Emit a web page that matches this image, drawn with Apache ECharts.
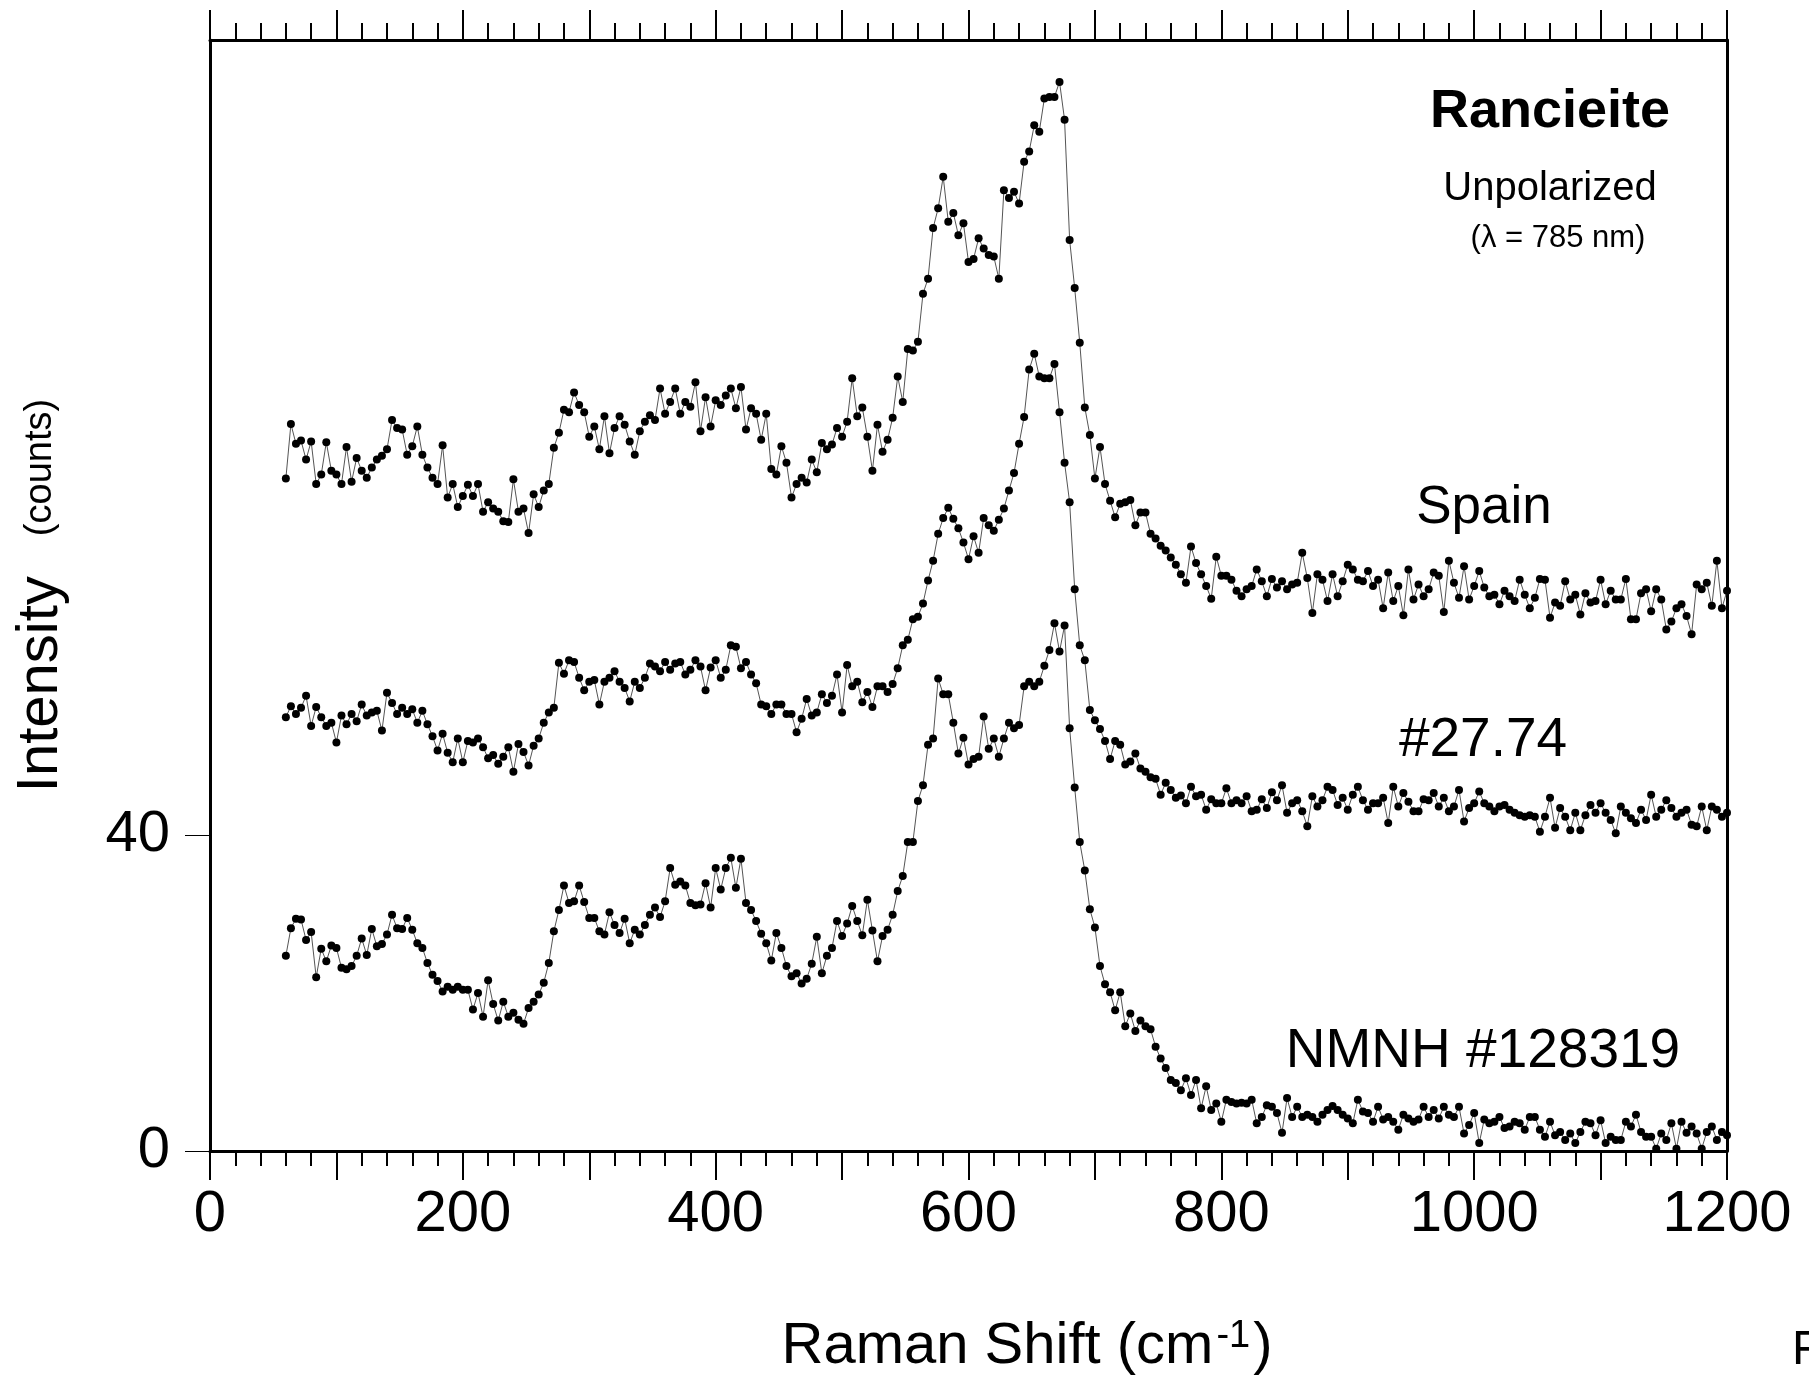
<!DOCTYPE html>
<html>
<head>
<meta charset="utf-8">
<script src="https://cdn.jsdelivr.net/npm/echarts@6/dist/echarts.min.js"></script>
<style>
html,body{margin:0;padding:0;background:#fff;}
#chart{width:1809px;height:1380px;}
</style>
</head>
<body>
<div id="chart"></div>
<script>
// Raman shift grid (cm-1): evenly spaced instrument channels
const shiftStart = 60;
const shiftStep = 4;

// Spain (top trace), counts
const spain = [
85.1, 92.0, 89.5, 89.9, 87.5, 89.8, 84.4, 85.6, 89.7, 86.1,
85.6, 84.4, 89.1, 84.7, 87.7, 86.1, 85.2, 86.5, 87.5, 88.0,
88.8, 92.5, 91.5, 91.3, 88.1, 89.2, 91.7, 88.1, 86.5, 85.2,
84.4, 89.3, 82.7, 84.4, 81.5, 82.9, 84.3, 82.9, 84.4, 80.9,
82.1, 81.3, 80.9, 79.7, 79.6, 85.0, 80.9, 81.3, 78.2, 83.1,
81.5, 83.6, 84.4, 89.0, 90.9, 93.8, 93.5, 96.0, 94.4, 93.5,
90.4, 91.7, 88.8, 93.0, 88.3, 91.5, 93.0, 91.9, 89.8, 88.1,
91.1, 92.3, 93.1, 92.5, 96.5, 93.3, 94.8, 96.5, 93.3, 94.8,
94.2, 97.3, 91.1, 95.4, 91.7, 95.0, 94.4, 95.6, 96.5, 94.0,
96.7, 91.3, 94.0, 93.3, 90.0, 93.3, 86.3, 85.6, 89.2, 87.1,
82.7, 84.4, 85.2, 84.6, 87.5, 85.9, 89.6, 88.8, 89.4, 91.5,
90.4, 92.3, 97.8, 93.0, 94.1, 90.4, 86.1, 91.9, 88.5, 90.0,
92.8, 98.0, 94.8, 101.5, 101.3, 102.4, 108.5, 110.4, 116.8, 119.3,
123.3, 117.6, 118.7, 115.9, 117.4, 112.5, 112.9, 115.5, 114.2, 113.4,
113.2, 110.4, 121.6, 120.6, 121.4, 119.9, 125.2, 126.5, 129.8, 129.0,
133.2, 133.4, 133.4, 135.3, 130.5, 115.3, 109.2, 102.3, 94.1, 90.6,
85.1, 89.1, 84.4, 82.3, 80.2, 81.9, 82.1, 82.4, 79.2, 80.8,
80.8, 78.1, 77.5, 76.6, 76.0, 75.1, 74.2, 73.0, 71.9, 76.5,
74.4, 73.0, 71.5, 69.9, 75.2, 72.8, 72.8, 72.3, 70.9, 70.2,
71.1, 71.5, 73.6, 72.1, 70.2, 72.4, 71.3, 72.1, 71.1, 71.7,
71.9, 75.7, 72.5, 68.1, 73.0, 72.3, 69.6, 73.0, 70.2, 72.1,
74.2, 73.6, 72.3, 72.1, 73.4, 71.5, 72.3, 68.7, 73.2, 69.6,
71.5, 67.8, 73.6, 69.8, 71.7, 70.2, 71.1, 73.2, 72.8, 68.2,
74.7, 71.9, 70.0, 74.0, 69.8, 71.5, 73.4, 71.3, 70.2, 70.4,
69.2, 70.9, 70.2, 69.6, 72.3, 70.4, 68.7, 70.0, 72.4, 72.3,
67.5, 69.4, 69.0, 72.1, 69.8, 70.4, 67.9, 70.6, 69.4, 69.6,
72.3, 69.2, 70.9, 69.8, 69.8, 72.4, 67.3, 67.3, 70.6, 71.1,
68.3, 71.1, 69.8, 66.0, 67.0, 68.7, 69.2, 67.7, 65.4, 71.7,
71.1, 71.9, 69.0, 74.7, 68.7, 70.9
];

// #27.74 (middle trace), counts
const sample2774 = [
54.9, 56.3, 55.3, 56.1, 57.6, 53.8, 56.2, 54.9, 53.8, 54.2,
51.7, 55.1, 54.0, 55.3, 54.4, 56.5, 55.1, 55.5, 55.7, 53.2,
58.0, 56.7, 55.3, 56.1, 55.3, 55.9, 54.2, 55.7, 54.0, 52.5,
50.7, 52.8, 50.4, 49.2, 52.2, 49.2, 51.9, 51.7, 52.2, 51.1,
49.7, 50.1, 49.0, 49.9, 51.1, 48.0, 51.5, 50.5, 48.8, 51.3,
52.2, 54.2, 55.5, 56.1, 61.8, 60.4, 62.1, 61.9, 59.9, 58.3,
59.4, 59.6, 56.5, 59.4, 59.9, 60.7, 59.4, 58.6, 56.9, 59.4,
58.6, 59.9, 61.7, 61.3, 60.7, 61.9, 60.9, 61.7, 61.9, 60.3,
60.9, 62.1, 61.3, 58.3, 61.2, 62.1, 59.9, 60.9, 64.0, 63.8,
61.1, 61.9, 60.3, 59.2, 56.5, 56.3, 55.3, 56.5, 56.5, 55.3,
55.3, 53.0, 54.7, 57.2, 55.1, 55.5, 57.8, 56.7, 57.6, 60.3,
55.5, 61.5, 58.8, 59.4, 56.8, 58.1, 56.2, 58.8, 58.8, 58.1,
59.1, 61.1, 64.0, 64.7, 67.3, 67.6, 69.3, 72.2, 74.7, 78.1,
80.1, 81.4, 80.0, 78.8, 77.0, 74.9, 77.8, 75.7, 80.1, 79.2,
78.5, 79.9, 81.3, 83.6, 85.8, 89.5, 92.9, 98.9, 100.9, 98.0,
97.8, 97.8, 99.6, 93.5, 87.1, 82.1, 71.1, 64.0, 62.1, 55.8,
54.5, 53.4, 51.9, 49.6, 51.9, 51.4, 48.9, 49.3, 50.3, 48.4,
48.0, 47.3, 47.1, 45.1, 46.6, 45.7, 44.7, 45.0, 44.0, 46.1,
44.9, 45.1, 43.2, 44.5, 44.0, 44.0, 45.9, 44.0, 44.4, 44.0,
44.9, 43.0, 43.2, 44.5, 43.4, 45.4, 44.4, 46.3, 42.8, 44.0,
44.4, 43.0, 41.1, 44.9, 43.6, 44.4, 46.1, 45.7, 43.8, 44.7,
43.2, 45.1, 46.1, 44.4, 43.2, 44.0, 44.0, 44.7, 41.5, 46.1,
43.6, 45.3, 44.2, 43.0, 43.0, 44.5, 44.4, 45.3, 43.6, 44.7,
43.0, 43.6, 45.7, 41.7, 43.4, 44.0, 45.5, 44.0, 43.6, 43.0,
43.6, 43.8, 43.2, 42.8, 42.5, 42.3, 42.5, 42.3, 40.4, 42.3,
44.7, 40.9, 43.4, 42.3, 40.6, 42.8, 40.6, 42.5, 43.8, 42.8,
44.0, 42.8, 41.9, 40.2, 43.6, 42.8, 42.1, 41.5, 43.2, 41.9,
45.1, 42.3, 43.2, 44.4, 43.4, 42.3, 42.8, 43.2, 41.3, 41.1,
43.6, 40.6, 43.6, 43.2, 42.3, 42.8
];

// NMNH #128319 (bottom trace), counts
const nmnh128319 = [
24.7, 28.2, 29.4, 29.3, 26.7, 27.7, 22.0, 25.6, 24.0, 26.0,
25.7, 23.2, 23.0, 23.4, 24.7, 26.9, 24.8, 28.1, 25.9, 26.2,
27.4, 29.9, 28.2, 28.1, 29.5, 28.0, 26.3, 25.7, 23.8, 22.3,
21.5, 20.2, 20.8, 20.4, 20.8, 20.4, 20.4, 17.9, 20.0, 17.0,
21.6, 18.6, 16.5, 18.9, 17.0, 17.5, 16.6, 16.1, 18.1, 18.9,
19.8, 21.3, 23.8, 27.8, 30.5, 33.6, 31.4, 31.6, 33.6, 31.5,
29.5, 29.5, 27.8, 27.4, 30.2, 28.6, 27.6, 29.4, 26.3, 28.0,
27.4, 28.6, 29.9, 30.8, 29.6, 31.6, 35.8, 33.7, 34.1, 33.6,
31.4, 31.1, 31.2, 33.9, 30.8, 35.8, 33.1, 35.8, 37.1, 33.3,
37.0, 31.4, 30.5, 29.1, 27.5, 26.3, 24.1, 27.6, 25.7, 23.4,
22.1, 22.5, 21.2, 21.8, 23.7, 27.1, 22.5, 24.7, 25.7, 29.1,
27.2, 28.8, 31.0, 29.1, 27.3, 31.8, 27.9, 24.0, 27.2, 28.0,
29.9, 32.9, 34.8, 39.1, 39.1, 44.3, 46.3, 51.4, 52.2, 59.8,
57.8, 57.8, 54.2, 50.3, 52.3, 48.9, 49.6, 49.9, 55.0, 50.9,
52.2, 49.9, 52.2, 54.2, 53.5, 53.9, 58.8, 59.4, 58.8, 59.4,
61.4, 63.4, 66.8, 63.2, 66.5, 53.5, 46.0, 39.1, 35.5, 30.6,
28.3, 23.4, 21.1, 20.1, 17.8, 20.1, 15.8, 17.4, 15.2, 16.5,
15.8, 15.4, 13.2, 11.7, 10.5, 9.0, 8.6, 7.7, 9.2, 7.1,
9.0, 5.4, 8.2, 5.2, 6.0, 3.7, 6.5, 6.2, 6.0, 6.1,
6.0, 6.5, 3.5, 4.3, 5.8, 5.6, 4.8, 2.3, 6.7, 4.3,
5.6, 4.3, 4.6, 4.3, 3.7, 4.6, 5.2, 5.7, 5.2, 4.6,
4.1, 3.5, 6.5, 5.0, 4.8, 3.7, 5.6, 4.0, 4.3, 3.7,
2.7, 4.6, 4.1, 3.7, 4.0, 5.6, 4.3, 5.2, 4.1, 5.6,
4.6, 4.3, 5.6, 2.2, 3.3, 4.8, 1.0, 4.0, 3.5, 3.7,
4.3, 2.9, 3.1, 3.7, 3.5, 2.7, 4.3, 4.3, 2.7, 1.8,
3.7, 2.0, 2.4, 1.4, 2.2, 1.0, 2.4, 3.7, 3.5, 2.0,
3.9, 1.0, 1.8, 1.4, 1.4, 3.7, 3.1, 4.6, 2.4, 1.8,
1.8, 0.3, 2.2, 1.4, 3.5, 0.3, 3.7, 2.3, 3.1, 2.2,
0.3, 2.4, 3.1, 1.4, 2.4, 2.0
];

const xTickLabels = [0, 200, 400, 600, 800, 1000, 1200];
const yTickLabels = [0, 40];
const traceNames = ['Spain', '#27.74', 'NMNH #128319'];

const FONT = '"Liberation Sans", Arial, sans-serif';

function pairs(vals) {
  return vals.map((v, i) => [shiftStart + i * shiftStep, v]);
}

function traceSeries(name, vals) {
  return {
    name: name,
    type: 'line',
    xAxisIndex: 0,
    yAxisIndex: 0,
    data: pairs(vals),
    symbol: 'circle',
    symbolSize: 8,
    showSymbol: true,
    itemStyle: { color: '#000' },
    lineStyle: { color: '#555', width: 1 },
    emphasis: { disabled: true },
    animation: false
  };
}

const chart = echarts.init(document.getElementById('chart'), null, { renderer: 'canvas' });

const tickLine = { color: '#000', width: 2 };
const frameLine = { show: true, onZero: false, lineStyle: { color: '#000', width: 3 } };

chart.setOption({
  backgroundColor: '#fff',
  animation: false,
  grid: { left: 210, right: 82, top: 40, bottom: 229, containLabel: false, outerBoundsMode: 'none' },
  xAxis: [
    {
      type: 'value', position: 'bottom', min: 0, max: 1200, interval: 100,
      axisLine: frameLine,
      axisTick: { show: true, length: 29, lineStyle: tickLine },
      minorTick: { show: true, splitNumber: 5, length: 15, lineStyle: tickLine },
      splitLine: { show: false },
      minorSplitLine: { show: false },
      axisLabel: {
        show: true, margin: 35, color: '#000', fontSize: 58, fontFamily: FONT,
        formatter: v => (xTickLabels.indexOf(v) >= 0 ? String(v) : '')
      }
    },
    {
      type: 'value', position: 'top', min: 0, max: 1200, interval: 100,
      axisLine: frameLine,
      axisTick: { show: true, length: 30, lineStyle: tickLine },
      minorTick: { show: true, splitNumber: 5, length: 17, lineStyle: tickLine },
      splitLine: { show: false },
      minorSplitLine: { show: false },
      axisLabel: { show: false }
    }
  ],
  yAxis: [
    {
      type: 'value', position: 'left', min: 0, max: 140.6,
      axisLine: frameLine,
      axisTick: { show: true, length: 25, customValues: yTickLabels, lineStyle: { color: '#000', width: 1 } },
      axisLabel: {
        show: true, margin: 40, color: '#000', fontSize: 58, fontFamily: FONT,
        customValues: yTickLabels,
        formatter: v => String(v)
      },
      splitLine: { show: false },
      name: '{a|Intensity}{b|(counts)}',
      nameLocation: 'middle',
      nameRotate: 90,
      nameGap: 140,
      nameTextStyle: {
        color: '#000',
        rich: {
          a: { fontSize: 58, fontFamily: FONT, color: '#000' },
          b: { fontSize: 38, fontFamily: FONT, color: '#000', padding: [0, 0, 0, 40] }
        }
      }
    },
    {
      type: 'value', position: 'right', min: 0, max: 140.6,
      axisLine: frameLine,
      axisTick: { show: false },
      axisLabel: { show: false },
      splitLine: { show: false }
    }
  ],
  series: [
    traceSeries(traceNames[0], spain),
    traceSeries(traceNames[1], sample2774),
    traceSeries(traceNames[2], nmnh128319)
  ],
  graphic: [
    { type: 'text', x: 1550, y: 112, style: { text: 'Rancieite', fill: '#000', fontSize: 54, fontWeight: 'bold', fontFamily: FONT, align: 'center', verticalAlign: 'middle', textAlign: 'center', textVerticalAlign: 'middle' } },
    { type: 'text', x: 1550, y: 189, style: { text: 'Unpolarized', fill: '#000', fontSize: 40, fontFamily: FONT, align: 'center', verticalAlign: 'middle', textAlign: 'center', textVerticalAlign: 'middle' } },
    { type: 'text', x: 1558, y: 238, style: { text: '(\u03bb = 785 nm)', fill: '#000', fontSize: 31, fontFamily: FONT, align: 'center', verticalAlign: 'middle', textAlign: 'center', textVerticalAlign: 'middle' } },
    { type: 'text', x: 1484, y: 508, style: { text: traceNames[0], fill: '#000', fontSize: 53, fontFamily: FONT, align: 'center', verticalAlign: 'middle', textAlign: 'center', textVerticalAlign: 'middle' } },
    { type: 'text', x: 1483, y: 741, style: { text: traceNames[1], fill: '#000', fontSize: 55, fontFamily: FONT, align: 'center', verticalAlign: 'middle', textAlign: 'center', textVerticalAlign: 'middle' } },
    { type: 'text', x: 1483, y: 1052, style: { text: traceNames[2], fill: '#000', fontSize: 55, fontFamily: FONT, align: 'center', verticalAlign: 'middle', textAlign: 'center', textVerticalAlign: 'middle' } },
    { type: 'text', x: 1027, y: 1347, style: {
        text: '{a|Raman Shift (cm}{s|-1}{a|)}', fill: '#000', align: 'center', verticalAlign: 'middle', textAlign: 'center', textVerticalAlign: 'middle',
        rich: {
          a: { fontSize: 58, fontFamily: FONT, color: '#000' },
          s: { fontSize: 38, fontFamily: FONT, color: '#000', verticalAlign: 'top', padding: [0, 3, 16, 3] }
        }
    } },
    { type: 'text', x: 1792, y: 1351, style: { text: 'F', fill: '#000', fontSize: 48, fontFamily: FONT, align: 'left', verticalAlign: 'middle', textAlign: 'left', textVerticalAlign: 'middle' } }
  ]
});
</script>
</body>
</html>
